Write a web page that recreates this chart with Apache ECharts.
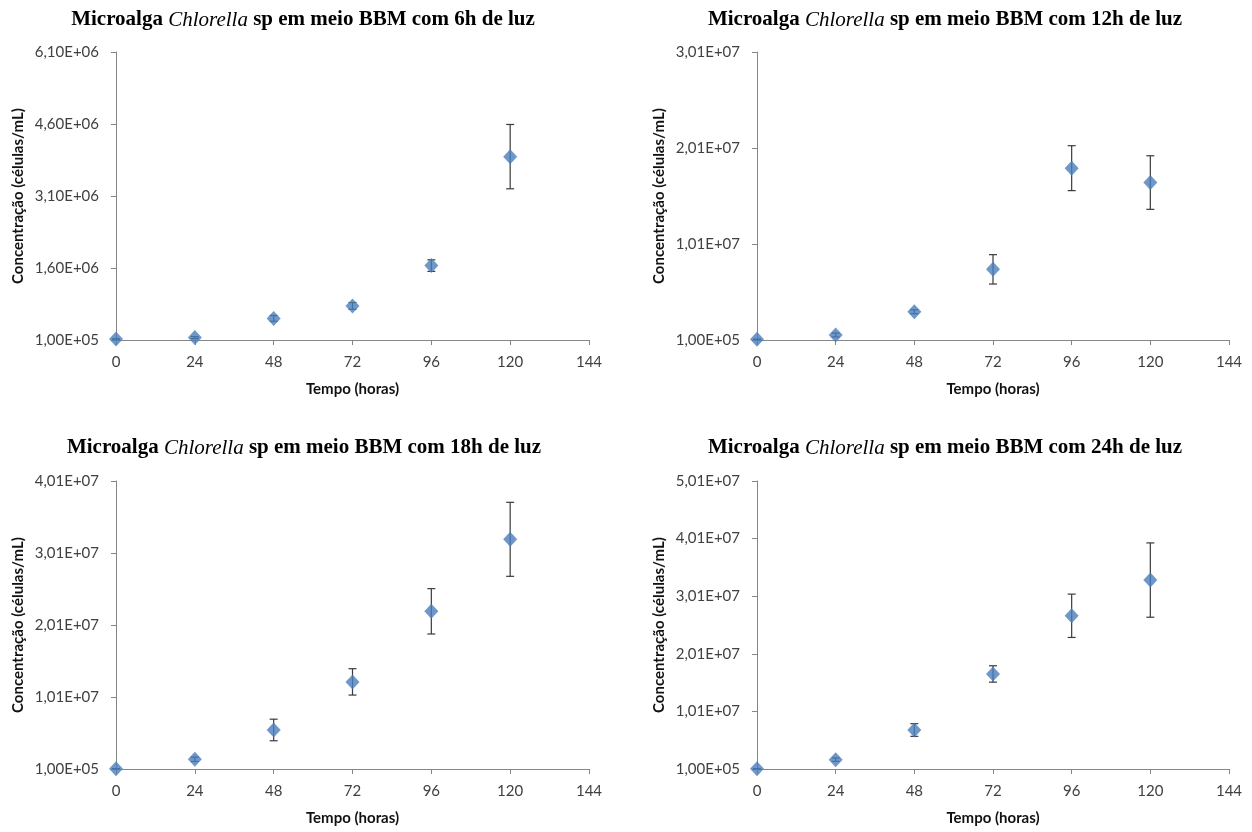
<!DOCTYPE html>
<html>
<head>
<meta charset="utf-8">
<script src="https://cdn.jsdelivr.net/npm/echarts@6/dist/echarts.min.js"></script>
<style>
  html, body { margin: 0; background: #fff; }
  #chart { width: 1252px; height: 832px; }
</style>
</head>
<body>
<div id="chart"></div>
<script>
// sampling times (hours)
const hours = [0, 24, 48, 72, 96, 120];

// light regime of each panel
const photoperiods = ['6h', '12h', '18h', '24h'];

// mean concentration (cells/mL) and standard deviation
const conc6h = [1.2e5, 1.5e5, 5.5e5, 8.1e5, 1.65e6, 3.92e6];
const err6h = [0, 2e4, 6e4, 7e4, 1.2e5, 6.7e5];

const conc12h = [1.7e5, 6.2e5, 3.05e6, 7.46e6, 1.80e7, 1.65e7];
const err12h = [0, 2e5, 2e5, 1.53e6, 2.34e6, 2.79e6];

const conc18h = [1.5e5, 1.45e6, 5.52e6, 1.22e7, 2.20e7, 3.20e7];
const err18h = [0, 3e5, 1.5e6, 1.83e6, 3.15e6, 5.14e6];

const conc24h = [1.5e5, 1.72e6, 6.87e6, 1.66e7, 2.67e7, 3.29e7];
const err24h = [0, 3e5, 1.1e6, 1.42e6, 3.76e6, 6.45e6];

// y axis ranges (Excel style: start at 1,00E+05)
const yMin = [1e5, 1e5, 1e5, 1e5];
const yMax = [6.1e6, 3.01e7, 4.01e7, 5.01e7];
const yStep = [1.5e6, 1e7, 1e7, 1e7];

const allConc = [conc6h, conc12h, conc18h, conc24h];
const allErr = [err6h, err12h, err18h, err24h];

// panel boxes
const panels = [
    {left: 116, top: 52, width: 473, height: 288, titleX: 303, titleY: 20},
    {left: 757, top: 52, width: 472, height: 288, titleX: 945, titleY: 20},
    {left: 116, top: 481, width: 473, height: 288, titleX: 304, titleY: 448},
    {left: 757, top: 481, width: 472, height: 288, titleX: 945, titleY: 448},
];

const labelFont = 'Lato, "Open Sans", sans-serif';
const axisGray = '#868686';
const textGray = '#404040';
const markerBlue = '#4a7ebb';

// 1,00E+05 style
function sciLabel(v) {
    const s = Number(v).toExponential(2).replace('.', ',');
    return s.replace(/e([+-])(\d+)$/, (m, sign, exp) => 'E' + sign + exp.padStart(2, '0'));
}

function renderErrorBar(params, api) {
    const x = api.value(0);
    const lo = api.coord([x, api.value(1)]);
    const hi = api.coord([x, api.value(2)]);
    const half = 4;
    const style = {stroke: '#3a3a3a', lineWidth: 1.2};
    return {
        type: 'group',
        children: [
            {type: 'line', shape: {x1: lo[0], y1: lo[1], x2: hi[0], y2: hi[1]}, style},
            {type: 'line', shape: {x1: lo[0] - half, y1: lo[1], x2: lo[0] + half, y2: lo[1]}, style},
            {type: 'line', shape: {x1: hi[0] - half, y1: hi[1], x2: hi[0] + half, y2: hi[1]}, style},
        ]
    };
}

const grid = [], xAxis = [], yAxis = [], series = [], graphic = [];

panels.forEach((p, i) => {
    grid.push({left: p.left, top: p.top, width: p.width, height: p.height, containLabel: false});

    xAxis.push({
        type: 'value',
        gridIndex: i,
        min: 0,
        max: 144,
        interval: 24,
        name: 'Tempo (horas)',
        nameLocation: 'middle',
        nameGap: 42,
        nameTextStyle: {fontFamily: labelFont, fontWeight: 'bold', fontSize: 15, color: '#111'},
        axisLine: {onZero: false, lineStyle: {color: axisGray, width: 1}},
        axisTick: {show: true, inside: false, length: 5, lineStyle: {color: axisGray}},
        axisLabel: {fontFamily: labelFont, fontSize: 15, color: textGray, margin: 15},
        splitLine: {show: false}
    });

    yAxis.push({
        type: 'value',
        gridIndex: i,
        min: yMin[i],
        max: yMax[i],
        interval: yStep[i],
        name: 'Concentração (células/mL)',
        nameLocation: 'middle',
        nameGap: 90,
        nameTextStyle: {fontFamily: labelFont, fontWeight: 'bold', fontSize: 15, color: '#111'},
        axisLine: {show: true, lineStyle: {color: axisGray, width: 1}},
        axisTick: {show: true, inside: false, length: 5, lineStyle: {color: axisGray}},
        axisLabel: {fontFamily: labelFont, fontSize: 15, color: textGray, margin: 17, formatter: sciLabel},
        splitLine: {show: false}
    });

    const conc = allConc[i], err = allErr[i];

    series.push({
        type: 'custom',
        xAxisIndex: i,
        yAxisIndex: i,
        renderItem: renderErrorBar,
        encode: {x: 0, y: [1, 2]},
        data: hours.map((h, k) => [h, conc[k] - err[k], conc[k] + err[k]]),
        z: 2,
        silent: true
    });

    series.push({
        type: 'scatter',
        xAxisIndex: i,
        yAxisIndex: i,
        symbol: 'diamond',
        symbolSize: [14, 15],
        itemStyle: {color: markerBlue},
        data: hours.map((h, k) => [h, conc[k]]),
        z: 3
    });

    graphic.push({
        type: 'text',
        x: p.titleX,
        y: p.titleY,
        style: {
            text: '{b|Microalga }{i|Chlorella}{b| sp em meio BBM com ' + photoperiods[i] + ' de luz}',
            align: 'center',
            textAlign: 'center',
            verticalAlign: 'middle',
            textVerticalAlign: 'middle',
            rich: {
                b: {fontFamily: '"Liberation Serif", serif', fontWeight: 'bold', fontSize: 21, fill: '#000', color: '#000'},
                i: {fontFamily: '"Liberation Serif", serif', fontStyle: 'italic', fontSize: 21, fill: '#000', color: '#000'}
            }
        }
    });
});

const chart = echarts.init(document.getElementById('chart'));
chart.setOption({
    backgroundColor: '#fff',
    animation: false,
    grid,
    xAxis,
    yAxis,
    series,
    graphic
});
window.addEventListener('resize', () => chart.resize());
</script>
</body>
</html>
